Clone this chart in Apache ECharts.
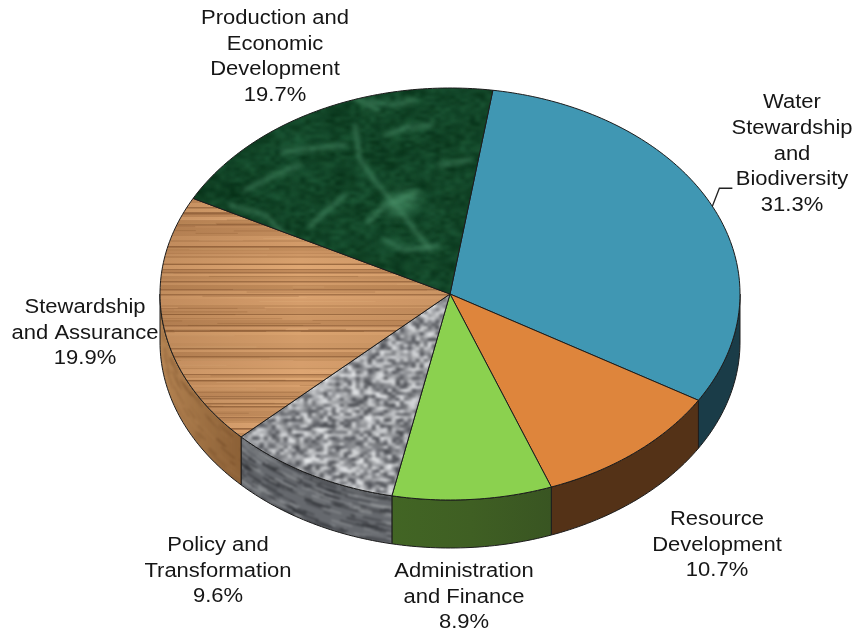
<!DOCTYPE html>
<html><head><meta charset="utf-8">
<style>html,body{margin:0;padding:0;background:#fff}#c{width:855px;height:634px;filter:blur(0.5px)}</style>
<script src="https://cdn.jsdelivr.net/npm/echarts@6/dist/echarts.min.js"></script>
</head><body><div id="c"></div>
<script>
// ---- data ----
const categories = ['Water\nStewardship\nand\nBiodiversity','Resource\nDevelopment','Administration\nand Finance','Policy and\nTransformation','Stewardship\nand Assurance','Production and\nEconomic\nDevelopment'];
const shares = [31.3,10.7,8.9,9.6,19.9,19.7];

// ---- layout (not data) ----
const W=855,H=634, CX=450, CY=294, RX=290, RY=206, DEPTH=48, START_DEG=8.5;
const LABEL_X=[792,717,464,218,85,275], LABEL_Y=[154,545,597,571,333,57];
const FONT=20, STRETCH=1.1, LEAD=25.6;

// ---- procedural surface textures (decoration only) ----
let seed=12345; const rnd=()=>{seed=(seed*1664525+1013904223)%4294967296;return seed/4294967296;};
function mk(w=W,h=H){const c=document.createElement('canvas');c.width=w;c.height=h;return c;}
function noiseLayer(sx,sy,lo,hi,alpha){
  const w=Math.ceil(W/sx),h=Math.ceil(H/sy),c=mk(w,h),g=c.getContext('2d'),d=g.createImageData(w,h);
  for(let i=0;i<d.data.length;i+=4){const t=rnd();
    for(let k=0;k<3;k++)d.data[i+k]=lo[k]+(hi[k]-lo[k])*t; d.data[i+3]=alpha;}
  g.putImageData(d,0,0);return c;
}
function marble(){
  const c=mk(),g=c.getContext('2d');
  g.fillStyle='#0c4325';g.fillRect(0,0,W,H);
  g.imageSmoothingEnabled=true;g.filter='blur(2.5px)';
  g.drawImage(noiseLayer(22,12,[3,38,16],[34,98,62],190),0,0,W,H);
  g.filter='blur(1px)';
  g.drawImage(noiseLayer(5,3,[3,38,16],[42,108,70],125),0,0,W,H);
  const veins=[[[355,125],[360,160],[378,185],[398,208],[430,250]],[[418,192],[385,205],[368,222]],[[432,125],[405,128],[385,135]],
   [[282,152],[320,148],[345,145]],[[310,226],[330,208],[345,195]],[[438,246],[405,250],[385,240]],[[245,190],[275,175],[300,165]],[[415,100],[395,105],[370,102]],
   [[330,100],[350,95],[378,110]],[[230,205],[265,215],[300,250]],[[440,165],[470,160]]];
  g.lineCap='round';
  veins.forEach(v=>{g.filter='blur(2.4px)';g.strokeStyle='rgba(105,180,138,.62)';g.lineWidth=4;g.beginPath();v.forEach((p,i)=>i?g.lineTo(p[0],p[1]):g.moveTo(p[0],p[1]));g.stroke();});
  g.filter='blur(5px)';g.fillStyle='rgba(95,175,130,.55)';g.beginPath();g.ellipse(402,203,18,12,-.5,0,7);g.fill();
  g.filter='blur(1px)';g.drawImage(noiseLayer(5,3,[4,44,22],[30,92,58],70),0,0,W,H);
  g.filter='none';return c;
}
function wood(){
  const c=mk(),g=c.getContext('2d');
  let y=0;
  while(y<H){const h=1+Math.floor(rnd()*5),t=rnd();
    const r=192+t*32,gg=138+t*30,b=90+t*26;g.fillStyle=`rgb(${r},${gg},${b})`;g.fillRect(0,y,W,h);
    if(rnd()<.3){g.fillStyle='rgba(115,70,35,.5)';g.fillRect(0,y,W,1.5);}
    y+=h;}
  for(let k=0;k<500;k++){g.fillStyle=rnd()<.5?'rgba(130,85,45,.25)':'rgba(235,190,140,.2)';g.fillRect(rnd()*W,rnd()*H,30+rnd()*130,1);}
  const s=g.createLinearGradient(160,0,440,0);s.addColorStop(0,'rgba(120,75,40,.2)');s.addColorStop(.5,'rgba(120,75,40,0)');s.addColorStop(1,'rgba(120,75,40,.10)');
  g.fillStyle=s;g.fillRect(0,0,W,H);
  const d=mk(),q=d.getContext('2d');q.filter='blur(0.7px)';q.drawImage(c,0,0);return d;
}
function ringWall(base,streaks){
  const c=mk(),g=c.getContext('2d');g.fillStyle=base;g.fillRect(0,0,W,H);
  for(let k=0;k<streaks.n;k++){
    const d=rnd()*DEPTH, a0=Math.PI*(.05+rnd()*.9), len=.015+rnd()*.09;
    g.strokeStyle=rnd()<.6?streaks.dark:streaks.light;g.lineWidth=.8+rnd()*streaks.w;
    g.beginPath();g.ellipse(CX,CY+d,RX,RY,0,a0,a0+len);g.stroke();
  }
  const o=mk(),q=o.getContext('2d');q.filter='blur(1px)';q.drawImage(c,0,0);return o;
}
function granite(){
  const c=mk(),g=c.getContext('2d');g.fillStyle='#b4b6ba';g.fillRect(0,0,W,H);
  g.filter='blur(1.3px)';g.drawImage(noiseLayer(4,3,[62,64,70],[236,238,240],255),0,0,W,H);
  g.filter='none';return c;
}
const pat=c=>({image:c,repeat:'no-repeat'});
const woodWallCv=ringWall('#a87847',{n:340,dark:'rgba(110,70,35,.4)',light:'rgba(195,145,95,.3)',w:1.2});
(()=>{const g=woodWallCv.getContext('2d');const s=g.createLinearGradient(160,0,240,0);s.addColorStop(0,'rgba(200,150,100,.4)');s.addColorStop(1,'rgba(90,55,25,.35)');g.fillStyle=s;g.fillRect(0,0,W,H);})();
const TOP_FILL=['#4097b3','#de853c','#8bd14f',pat(granite()),pat(wood()),pat(marble())];
const WALL_FILL=['#1a3c48','#543217',
  {type:'linear',x:0,y:0,x2:1,y2:0,colorStops:[{offset:0,color:'#426524'},{offset:.5,color:'#3f5f23'},{offset:1,color:'#395522'}]},
  pat(ringWall('#66696e',{n:900,dark:'rgba(38,40,44,.45)',light:'rgba(165,168,172,.38)',w:2})),
  pat(woodWallCv),'#000'];

// ---- geometry from values ----
const total=shares.reduce((a,b)=>a+b,0);
const toRad=d=>d*Math.PI/180;
const pt=(deg,dy=0)=>[CX+RX*Math.sin(toRad(deg)),CY-RY*Math.cos(toRad(deg))+dy];
function arc(a,b,dy){const n=Math.max(2,Math.ceil(Math.abs(b-a))),o=[];for(let i=0;i<=n;i++)o.push(pt(a+(b-a)*i/n,dy));return o;}
const startOf=i=>START_DEG+shares.slice(0,i).reduce((a,b)=>a+b,0)/total*360;

function renderItem(params,api){
  const i=api.value(0), v=api.value(1), a=startOf(i), b=a+v/total*360, kids=[];
  const line={stroke:'#1c1c1c',lineWidth:1,lineJoin:'round'};
  const wa=Math.max(a,90), wb=Math.min(b,270);
  if(wb>wa){
    const top=arc(wa,wb,0), bot=arc(wb,wa,DEPTH);
    kids.push({type:'polygon',shape:{points:top.concat(bot)},style:Object.assign({fill:WALL_FILL[i]},line)});
  }
  kids.push({type:'polygon',shape:{points:[[CX,CY]].concat(arc(a,b,0))},style:Object.assign({fill:TOP_FILL[i]},line)});
  if(i===0){
    const m=pt((a+b)/2);
    kids.push({type:'polyline',shape:{points:[m,[m[0]+7,m[1]-18],[m[0]+20,m[1]-18]]},style:{fill:null,stroke:'#222',lineWidth:1.3},z2:5});
  }
  kids.push({type:'text',x:LABEL_X[i],y:LABEL_Y[i],scaleX:STRETCH,z2:10,style:{
    text:categories[i]+'\n'+v.toFixed(1)+'%',x:0,y:0,align:'center',verticalAlign:'middle',textAlign:'center',textVerticalAlign:'middle',
    font:FONT+'px "Liberation Sans",Arial,sans-serif',lineHeight:LEAD,fill:'#161616'}});
  return {type:'group',children:kids};
}
const chart=echarts.init(document.getElementById('c'),null,{renderer:'canvas',width:W,height:H});
chart.setOption({animation:false,backgroundColor:'#fff',series:[{type:'custom',coordinateSystem:'none',silent:true,clip:false,renderItem,
  data:shares.map((v,i)=>[i,v])}]});
</script></body></html>
